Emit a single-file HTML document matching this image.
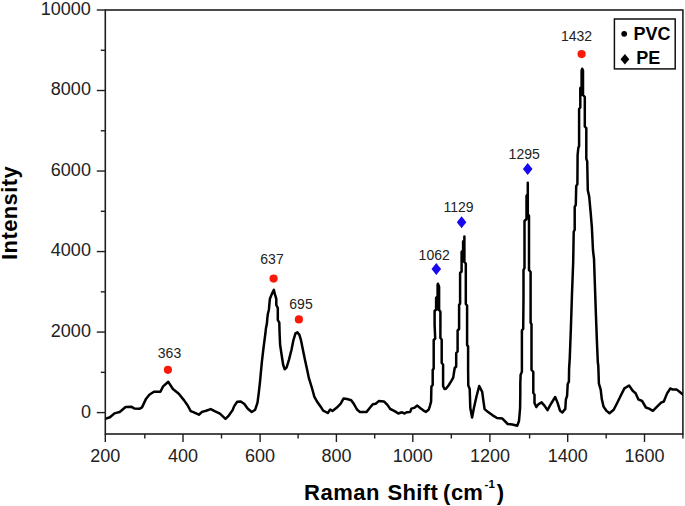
<!DOCTYPE html>
<html><head><meta charset="utf-8"><style>
html,body{margin:0;padding:0;background:#fff;}
body{width:685px;height:506px;overflow:hidden;}
svg{display:block;}
text{font-family:"Liberation Sans",sans-serif;}
.tk{font-size:18px;fill:#222;}
.an{font-size:14px;fill:#222;}
.lg{font-size:18px;font-weight:bold;fill:#000;}
.ti{font-size:22px;font-weight:bold;fill:#000;}
</style></head><body>
<svg width="685" height="506" viewBox="0 0 685 506">
<rect width="685" height="506" fill="#fff"/>
<rect x="105.3" y="10.0" width="577.6" height="424.0" fill="none" stroke="#1e1e1e" stroke-width="1.6"/>
<line x1="105.30" y1="434.0" x2="105.30" y2="442.0" stroke="#1e1e1e" stroke-width="1.4"/>
<text x="105.30" y="462.4" text-anchor="middle" class="tk">200</text>
<line x1="144.80" y1="434.0" x2="144.80" y2="438.5" stroke="#1e1e1e" stroke-width="1.4"/>
<line x1="183.00" y1="434.0" x2="183.00" y2="442.0" stroke="#1e1e1e" stroke-width="1.4"/>
<text x="183.00" y="462.4" text-anchor="middle" class="tk">400</text>
<line x1="221.50" y1="434.0" x2="221.50" y2="438.5" stroke="#1e1e1e" stroke-width="1.4"/>
<line x1="260.10" y1="434.0" x2="260.10" y2="442.0" stroke="#1e1e1e" stroke-width="1.4"/>
<text x="260.10" y="462.4" text-anchor="middle" class="tk">600</text>
<line x1="298.10" y1="434.0" x2="298.10" y2="438.5" stroke="#1e1e1e" stroke-width="1.4"/>
<line x1="336.40" y1="434.0" x2="336.40" y2="442.0" stroke="#1e1e1e" stroke-width="1.4"/>
<text x="336.40" y="462.4" text-anchor="middle" class="tk">800</text>
<line x1="374.70" y1="434.0" x2="374.70" y2="438.5" stroke="#1e1e1e" stroke-width="1.4"/>
<line x1="412.80" y1="434.0" x2="412.80" y2="442.0" stroke="#1e1e1e" stroke-width="1.4"/>
<text x="412.80" y="462.4" text-anchor="middle" class="tk">1000</text>
<line x1="451.30" y1="434.0" x2="451.30" y2="438.5" stroke="#1e1e1e" stroke-width="1.4"/>
<line x1="489.90" y1="434.0" x2="489.90" y2="442.0" stroke="#1e1e1e" stroke-width="1.4"/>
<text x="489.90" y="462.4" text-anchor="middle" class="tk">1200</text>
<line x1="529.60" y1="434.0" x2="529.60" y2="438.5" stroke="#1e1e1e" stroke-width="1.4"/>
<line x1="567.70" y1="434.0" x2="567.70" y2="442.0" stroke="#1e1e1e" stroke-width="1.4"/>
<text x="567.70" y="462.4" text-anchor="middle" class="tk">1400</text>
<line x1="606.20" y1="434.0" x2="606.20" y2="438.5" stroke="#1e1e1e" stroke-width="1.4"/>
<line x1="644.50" y1="434.0" x2="644.50" y2="442.0" stroke="#1e1e1e" stroke-width="1.4"/>
<text x="644.50" y="462.4" text-anchor="middle" class="tk">1600</text>
<line x1="682.90" y1="434.0" x2="682.90" y2="438.5" stroke="#1e1e1e" stroke-width="1.4"/>
<line x1="96.80" y1="412.60" x2="105.3" y2="412.60" stroke="#1e1e1e" stroke-width="1.4"/>
<text x="90.9" y="418.20" text-anchor="end" class="tk">0</text>
<line x1="100.80" y1="372.34" x2="105.3" y2="372.34" stroke="#1e1e1e" stroke-width="1.4"/>
<line x1="96.80" y1="332.08" x2="105.3" y2="332.08" stroke="#1e1e1e" stroke-width="1.4"/>
<text x="90.9" y="337.48" text-anchor="end" class="tk">2000</text>
<line x1="100.80" y1="291.82" x2="105.3" y2="291.82" stroke="#1e1e1e" stroke-width="1.4"/>
<line x1="96.80" y1="251.56" x2="105.3" y2="251.56" stroke="#1e1e1e" stroke-width="1.4"/>
<text x="90.9" y="255.96" text-anchor="end" class="tk">4000</text>
<line x1="100.80" y1="211.30" x2="105.3" y2="211.30" stroke="#1e1e1e" stroke-width="1.4"/>
<line x1="96.80" y1="171.04" x2="105.3" y2="171.04" stroke="#1e1e1e" stroke-width="1.4"/>
<text x="90.9" y="175.54" text-anchor="end" class="tk">6000</text>
<line x1="100.80" y1="130.78" x2="105.3" y2="130.78" stroke="#1e1e1e" stroke-width="1.4"/>
<line x1="96.80" y1="90.52" x2="105.3" y2="90.52" stroke="#1e1e1e" stroke-width="1.4"/>
<text x="90.9" y="94.62" text-anchor="end" class="tk">8000</text>
<line x1="100.80" y1="50.26" x2="105.3" y2="50.26" stroke="#1e1e1e" stroke-width="1.4"/>
<line x1="96.80" y1="10.00" x2="105.3" y2="10.00" stroke="#1e1e1e" stroke-width="1.4"/>
<text x="90.9" y="14.50" text-anchor="end" class="tk">10000</text>
<clipPath id="c"><rect x="105.3" y="10.0" width="577.6" height="424.0"/></clipPath>
<path d="M105.9,418.6 L109.9,417.3 L114.5,413.4 L119.7,412.0 L125.6,407.0 L131.5,406.8 L134.2,408.4 L139.4,408.8 L142.0,407.4 L146.0,398.9 L149.3,394.7 L153.9,391.7 L160.4,391.7 L163.1,386.4 L168.3,381.8 L172.9,389.0 L178.8,393.7 L184.1,400.4 L187.7,405.5 L190.7,411.2 L193.3,412.2 L198.9,414.7 L202.0,411.9 L206.1,410.7 L210.7,409.1 L214.7,411.2 L219.9,413.7 L225.5,418.8 L229.0,415.3 L232.6,410.1 L234.2,406.1 L237.2,401.7 L240.8,401.5 L244.4,404.0 L247.6,408.5 L251.7,412.0 L255.2,409.7 L257.5,402.7 L258.7,393.4 L259.9,382.8 L261.0,371.2 L261.9,361.6 L263.3,349.7 L264.8,337.8 L265.4,333.5 L265.9,328.5 L266.9,323.6 L267.4,317.6 L267.9,313.7 L268.9,309.7 L269.4,303.8 L269.9,298.8 L271.9,293.9 L273.9,289.9 L274.8,293.9 L276.3,298.8 L276.3,305.0 L277.8,308.0 L277.8,320.0 L279.3,322.6 L279.6,333.5 L280.1,344.8 L281.6,354.7 L283.1,364.5 L284.6,369.2 L286.6,367.5 L289.0,359.6 L291.5,349.7 L293.5,339.8 L295.5,333.4 L297.4,332.4 L299.4,334.9 L300.9,339.8 L302.9,349.7 L304.9,359.6 L307.3,370.5 L308.9,378.2 L311.8,387.5 L314.4,396.8 L317.5,402.3 L321.4,407.8 L323.2,410.7 L327.8,413.0 L330.2,409.5 L332.5,410.9 L336.6,407.8 L340.7,403.7 L343.6,398.4 L347.1,399.0 L351.2,400.2 L354.1,404.3 L357.0,409.5 L360.0,412.1 L366.4,412.1 L369.9,407.8 L372.8,404.3 L375.7,403.7 L378.7,401.1 L383.9,401.4 L387.4,404.9 L390.3,409.0 L393.2,410.3 L395.9,411.9 L398.3,413.5 L401.9,412.3 L404.6,413.5 L406.6,412.3 L410.2,411.9 L411.4,408.6 L414.1,407.9 L417.3,405.6 L420.5,408.3 L423.2,410.3 L426.0,411.9 L428.8,409.5 L430.0,405.6 L431.1,401.6 L431.4,386.5 L432.7,385.0 L432.7,370.0 L433.7,368.5 L433.7,340.0 L435.2,338.5 L434.6,325.0 L434.6,311.0 L436.1,309.5 L436.1,298.0 L437.6,296.5 L437.6,285.0 L437.9,283.7 L438.6,285.5 L439.1,287.0 L439.1,310.0 L440.4,311.5 L440.4,338.0 L441.7,339.5 L441.7,363.0 L443.1,364.5 L443.1,386.0 L444.5,389.0 L445.9,388.7 L448.5,385.5 L451.1,381.3 L453.2,377.6 L454.7,368.0 L456.2,366.5 L456.2,353.0 L457.6,351.5 L457.6,330.5 L459.1,329.0 L459.1,305.0 L460.1,303.5 L460.1,273.0 L461.6,271.5 L461.6,252.0 L463.1,250.5 L463.1,241.5 L464.4,240.0 L464.4,236.6 L464.4,262.0 L465.8,263.5 L465.8,304.0 L467.1,305.5 L467.1,345.0 L468.1,346.5 L468.1,370.0 L468.3,385.4 L469.7,389.0 L470.3,408.0 L472.1,417.4 L473.9,408.0 L476.3,397.3 L479.2,386.0 L482.2,391.9 L483.4,400.8 L484.6,409.1 L488.1,412.1 L492.3,415.1 L497.0,418.0 L502.4,418.6 L507.7,424.0 L512.4,424.5 L517.2,425.7 L519.0,421.0 L520.1,408.0 L520.3,393.7 L520.3,384.0 L520.6,375.0 L521.9,371.6 L521.9,330.6 L523.2,328.8 L523.5,299.0 L523.5,270.0 L524.5,268.0 L524.5,221.0 L526.5,219.0 L526.5,196.0 L527.8,194.0 L527.8,182.7 L527.8,214.0 L529.0,216.0 L529.0,270.0 L530.6,272.0 L530.6,322.6 L531.5,324.4 L531.5,369.8 L533.3,372.0 L533.3,392.9 L534.5,394.6 L534.5,402.9 L536.3,407.1 L538.6,404.1 L541.6,402.4 L544.6,405.9 L547.5,410.1 L550.5,404.7 L555.2,397.0 L557.6,402.9 L560.0,410.7 L562.4,412.4 L565.3,408.9 L565.9,399.4 L567.1,395.8 L567.7,384.0 L568.9,381.6 L569.1,368.6 L569.8,357.3 L570.9,327.7 L572.0,293.6 L573.2,261.8 L573.7,231.8 L574.7,229.7 L574.7,206.9 L575.8,204.8 L576.2,186.1 L577.4,184.1 L577.6,155.0 L578.3,148.0 L579.1,146.0 L579.1,109.0 L580.3,107.5 L580.3,88.0 L581.6,86.5 L581.6,70.5 L582.2,68.8 L583.0,70.5 L583.0,95.0 L584.8,97.0 L584.8,126.5 L586.3,128.2 L586.3,158.9 L587.2,161.2 L587.8,190.3 L589.2,196.5 L590.7,213.1 L591.9,227.6 L593.0,250.5 L594.0,258.8 L594.8,282.3 L595.9,314.1 L597.0,343.6 L597.8,362.0 L598.3,366.0 L598.9,383.7 L600.7,389.6 L601.8,399.1 L603.6,406.8 L606.6,410.9 L609.5,413.3 L613.7,409.8 L617.3,402.7 L620.2,396.7 L624.4,388.4 L629.1,385.5 L632.7,390.8 L635.6,393.2 L638.3,399.3 L642.1,401.0 L645.9,407.5 L649.1,408.6 L652.9,410.8 L657.3,406.4 L661.1,402.6 L663.8,401.5 L667.1,393.4 L670.3,388.5 L673.0,389.6 L676.8,389.6 L680.1,392.3 L683.5,395.0" fill="none" stroke="#000" stroke-width="2.5" stroke-linejoin="round" stroke-linecap="round" clip-path="url(#c)"/>
<polygon points="436.1,310 436.1,298 437.6,296.5 437.6,285 437.9,283.7 438.6,285.5 439.1,287 439.1,310" fill="#000" stroke="#000" stroke-width="1" stroke-linejoin="round"/>
<polygon points="461.6,262 461.6,252 463.1,250.5 463.1,241.5 464.4,240 464.4,236.6 464.4,262" fill="#000" stroke="#000" stroke-width="1" stroke-linejoin="round"/>
<polygon points="580.3,96 580.3,88 581.6,86.5 581.6,70.5 582.2,68.8 583,70.5 583,95" fill="#000" stroke="#000" stroke-width="1" stroke-linejoin="round"/>
<text x="169.5" y="357.8" text-anchor="middle" class="an">363</text>
<circle cx="167.9" cy="369.8" r="4.1" fill="#fa1a0c"/>
<text x="272.0" y="264.0" text-anchor="middle" class="an">637</text>
<circle cx="273.6" cy="278.6" r="4.1" fill="#fa1a0c"/>
<text x="301.0" y="308.9" text-anchor="middle" class="an">695</text>
<circle cx="298.9" cy="319.4" r="4.1" fill="#fa1a0c"/>
<text x="434.2" y="259.6" text-anchor="middle" class="an">1062</text>
<path d="M436.3,263.0 L441.1,269.0 L436.3,275.0 L431.5,269.0 Z" fill="#1808f0"/>
<text x="458.5" y="211.6" text-anchor="middle" class="an">1129</text>
<path d="M461.6,216.2 L466.40000000000003,222.2 L461.6,228.2 L456.8,222.2 Z" fill="#1808f0"/>
<text x="524.2" y="158.6" text-anchor="middle" class="an">1295</text>
<path d="M527.7,163.0 L532.5,169.0 L527.7,175.0 L522.9000000000001,169.0 Z" fill="#1808f0"/>
<text x="576.5" y="41.0" text-anchor="middle" class="an">1432</text>
<circle cx="581.6" cy="54.1" r="4.1" fill="#fa1a0c"/>
<rect x="614.4" y="19" width="60.8" height="49.9" fill="#fff" stroke="#111" stroke-width="1.5"/>
<circle cx="624.2" cy="33.8" r="2.9" fill="#000"/>
<text x="633.6" y="39.6" class="lg">PVC</text>
<path d="M624.9,53.9 L629.3,59.2 L624.9,64.5 L620.5,59.2 Z" fill="#000"/>
<text x="636.3" y="64.3" class="lg">PE</text>
<text x="304.1" y="500.3" class="ti" letter-spacing="0.5">Raman</text>
<text x="387.5" y="500.3" class="ti" letter-spacing="0.38">Shift</text>
<text x="443.1" y="500.3" class="ti">(</text>
<text x="451.0" y="500.3" class="ti">cm</text>
<text x="484.4" y="488.0" class="ti" style="font-size:11.5px">-</text>
<text x="488.5" y="488.2" class="ti" style="font-size:11.5px">1</text>
<text x="496.8" y="500.3" class="ti">)</text>
<text transform="translate(17.4,259.9) rotate(-90)" x="0" y="0" class="ti" letter-spacing="0.39">Intensity</text>
</svg>
</body></html>
